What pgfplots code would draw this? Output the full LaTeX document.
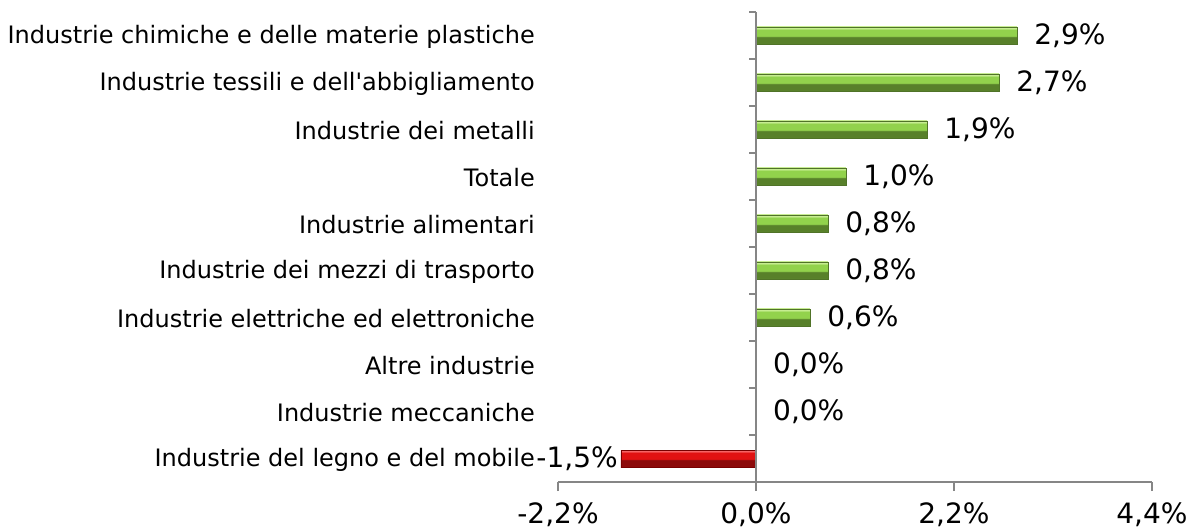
\documentclass[border=0pt]{standalone}
\usepackage{pgfplots}
\pgfplotsset{compat=1.18}
\usepackage{fontspec}
\setmainfont{DejaVu Sans}
\definecolor{gL}{RGB}{198,236,145}
\definecolor{gM}{RGB}{146,210,76}
\definecolor{gB}{RGB}{88,128,42}
\definecolor{gE}{RGB}{115,160,60}
\definecolor{gD}{RGB}{80,115,40}
\definecolor{rL}{RGB}{245,100,100}
\definecolor{rM}{RGB}{225,18,18}
\definecolor{rB}{RGB}{140,10,10}
\definecolor{rE}{RGB}{175,25,25}
\definecolor{rD}{RGB}{120,0,0}
\definecolor{axgray}{RGB}{134,134,134}
\pgfdeclareverticalshading{gbev}{100bp}{color(0bp)=(gE); color(25bp)=(gE); color(28bp)=(gB); color(45bp)=(gB); color(49bp)=(gM); color(67bp)=(gM); color(71bp)=(gL); color(75bp)=(gL); color(100bp)=(gL)}
\pgfdeclareverticalshading{rbev}{100bp}{color(0bp)=(rE); color(25bp)=(rE); color(28bp)=(rB); color(45bp)=(rB); color(49bp)=(rM); color(67bp)=(rM); color(71bp)=(rL); color(75bp)=(rL); color(100bp)=(rL)}
\pgfplotsset{
  gbar/.style={xbar, bar width=17pt, bar shift=0pt, draw=gD, line width=0.6pt,
    shading=gbev,
    nodes near coords, point meta=explicit symbolic,
    every node near coord/.append style={anchor=west, inner sep=0pt, xshift=17pt, font=\fontsize{28}{32}\selectfont, black}},
}
\begin{document}
\begin{tikzpicture}[x=1pt,y=1pt]
\useasboundingbox (0,0) rectangle (1189,528);
\begin{axis}[
  at={(558pt,46pt)}, anchor=south west,
  scale only axis, width=594pt, height=470pt,
  xmin=-2.2, xmax=4.4, ymin=-0.5, ymax=9.5,
  axis x line*=bottom, axis y line*=left,
  y axis line style={draw=none},
  x axis line style={axgray, line width=1.2pt},
  tick align=outside,
  major tick length=9pt,
  xtick={-2.2,0,2.2,4.4},
  xticklabels={-2{,}2\%,0{,}0\%,2{,}2\%,4{,}4\%},
  xtick style={axgray, line width=1.2pt},
  xticklabel style={font=\fontsize{28}{32}\selectfont, anchor=base, inner sep=0pt, yshift=-32pt},
  ytick={0,...,9},
  yticklabels={Industrie del legno e del mobile,Industrie meccaniche,Altre industrie,Industrie elettriche ed elettroniche,Industrie dei mezzi di trasporto,Industrie alimentari,Totale,Industrie dei metalli,Industrie tessili e dell\textquotesingle abbigliamento\hspace{7pt},Industrie chimiche e delle materie plastiche},
  ytick style={draw=none},
  yticklabel style={font=\fontsize{24}{28}\selectfont, anchor=east, inner sep=0pt, xshift=-14pt, yshift=-1.5pt},
  clip=false,
]
\addplot[gbar] coordinates {(2.9,9) [2{,}9\%]};
\addplot[gbar] coordinates {(2.7,8) [2{,}7\%]};
\addplot[gbar] coordinates {(1.9,7) [1{,}9\%]};
\addplot[gbar] coordinates {(1.0,6) [1{,}0\%]};
\addplot[gbar] coordinates {(0.8,5) [0{,}8\%]};
\addplot[gbar] coordinates {(0.8,4) [0{,}8\%]};
\addplot[gbar] coordinates {(0.6,3) [0{,}6\%]};
\addplot[xbar, bar width=17pt, bar shift=0pt, draw=none,
  nodes near coords, point meta=explicit symbolic,
  every node near coord/.append style={anchor=west, inner sep=0pt, xshift=17pt, font=\fontsize{28}{32}\selectfont, black}]
  coordinates {(0,2) [0{,}0\%] (0,1) [0{,}0\%]};
\addplot[xbar, bar width=17pt, bar shift=0pt, draw=rD, line width=0.6pt,
  shading=rbev,
  nodes near coords, point meta=explicit symbolic,
  every node near coord/.append style={anchor=east, inner sep=0pt, xshift=-3pt, font=\fontsize{28}{32}\selectfont, black}]
  coordinates {(-1.5,0) [-1{,}5\%]};
\draw[axgray, line width=1.2pt] (axis cs:0,-0.5) -- (axis cs:0,9.5);
\pgfplotsinvokeforeach{-0.5,0.5,1.5,2.5,3.5,4.5,5.5,6.5,7.5,8.5,9.5}{
  \draw[axgray, line width=1.2pt] (axis cs:0,#1) -- ++(-7pt,0pt);
}
\end{axis}
\end{tikzpicture}
\end{document}
